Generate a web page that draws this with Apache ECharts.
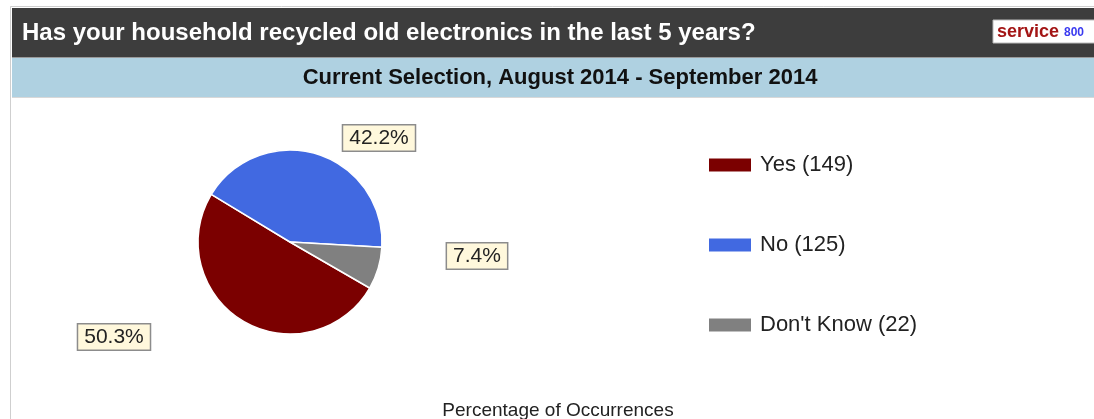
<!DOCTYPE html>
<html>
<head>
<meta charset="utf-8">
<script src="https://cdn.jsdelivr.net/npm/echarts@6/dist/echarts.min.js"></script>
<style>
  html, body { margin: 0; padding: 0; background: #ffffff; }
  #chart { width: 1094px; height: 419px; }
</style>
</head>
<body>
<div id="chart"></div>
<script>
// Survey answers and counts
const answers = ['Yes', 'No', "Don't Know"];
const counts = [149, 125, 22];
const sliceColors = ['#7b0000', '#4169e1', '#808080'];

const questionText = 'Has your household recycled old electronics in the last 5 years?';
const periodText = 'Current Selection, August 2014 - September 2014';
const captionText = 'Percentage of Occurrences';

const FONT = '"Liberation Sans", Arial, sans-serif';

const total = counts.reduce((a, b) => a + b, 0);

// pie geometry
const pieCenter = [290, 242];
const pieRadius = 92;
// label anchor offsets from the pie centre, per answer
const labelOffsets = [[-176, 95], [89, -104], [187, 14]];

const chart = echarts.init(document.getElementById('chart'), null, { renderer: 'canvas' });

const pieData = answers.map((name, i) => ({
  name: name,
  value: counts[i],
  itemStyle: { color: sliceColors[i] }
}));

chart.setOption({
  animation: false,
  backgroundColor: '#ffffff',
  graphic: [
    // outer frame
    { type: 'rect', shape: { x: 10.5, y: 6.5, width: 1200, height: 600 },
      style: { fill: 'none', stroke: '#cfcfcf', lineWidth: 1 }, z: 1 },
    // question header band
    { type: 'rect', shape: { x: 12, y: 8, width: 1100, height: 49 },
      style: { fill: '#3d3d3d' }, z: 2 },
    { type: 'rect', shape: { x: 12, y: 57, width: 1100, height: 1 },
      style: { fill: '#9a9a9a' }, z: 2 },
    // period band
    { type: 'rect', shape: { x: 12, y: 58, width: 1100, height: 39 },
      style: { fill: '#afd1e1' }, z: 2 },
    { type: 'rect', shape: { x: 12, y: 97, width: 1100, height: 1 },
      style: { fill: '#d8d8d8' }, z: 2 },
    { type: 'text', z: 3,
      style: { text: questionText, x: 22, y: 33, fill: '#ffffff',
        font: 'bold 24px ' + FONT, textVerticalAlign: 'middle' } },
    { type: 'text', z: 3,
      style: { text: periodText, x: 560, y: 78, fill: '#111111',
        font: 'bold 22px ' + FONT, textAlign: 'center', textVerticalAlign: 'middle' } },
    // logo badge
    { type: 'rect', shape: { x: 993, y: 20, width: 120, height: 23 },
      style: { fill: '#ffffff', stroke: '#bbbbbb', lineWidth: 1 }, z: 3 },
    { type: 'text', z: 4,
      style: { text: 'service', x: 997, y: 32, fill: '#a31515',
        font: 'bold 18px ' + FONT, textVerticalAlign: 'middle' } },
    { type: 'text', z: 4,
      style: { text: '800', x: 1064, y: 33, fill: '#3a3af0',
        font: 'bold 12px ' + FONT, textVerticalAlign: 'middle' } },
    // caption
    { type: 'text', z: 3,
      style: { text: captionText, x: 558, y: 411, fill: '#222222',
        font: '19px ' + FONT, textAlign: 'center', textVerticalAlign: 'middle' } }
  ],
  legend: {
    orient: 'vertical',
    left: 702,
    top: 149,
    itemWidth: 44,
    itemHeight: 15,
    itemGap: 58,
    icon: 'rect',
    data: answers,
    formatter: function (name) {
      return name + ' (' + counts[answers.indexOf(name)] + ')';
    },
    textStyle: { fontSize: 22, color: '#222222', fontFamily: FONT, padding: [0, 0, 0, 3] }
  },
  series: [{
    type: 'pie',
    center: pieCenter,
    radius: pieRadius,
    startAngle: -30,
    clockwise: true,
    data: pieData,
    itemStyle: { borderColor: '#ffffff', borderWidth: 1.5 },
    emphasis: { disabled: true },
    label: {
      show: true,
      position: 'outside',
      formatter: function (p) {
        return (p.value / total * 100).toFixed(1) + '%';
      },
      fontFamily: FONT,
      fontSize: 21,
      color: '#222222',
      backgroundColor: '#fff8dc',
      borderColor: '#8c8c8c',
      borderWidth: 1.5,
      padding: [3, 6, 1, 6]
    },
    labelLine: { show: false },
    labelLayout: function (params) {
      const off = labelOffsets[params.dataIndex];
      return {
        x: pieCenter[0] + off[0],
        y: pieCenter[1] + off[1],
        align: 'center',
        verticalAlign: 'middle'
      };
    }
  }]
});
</script>
</body>
</html>
